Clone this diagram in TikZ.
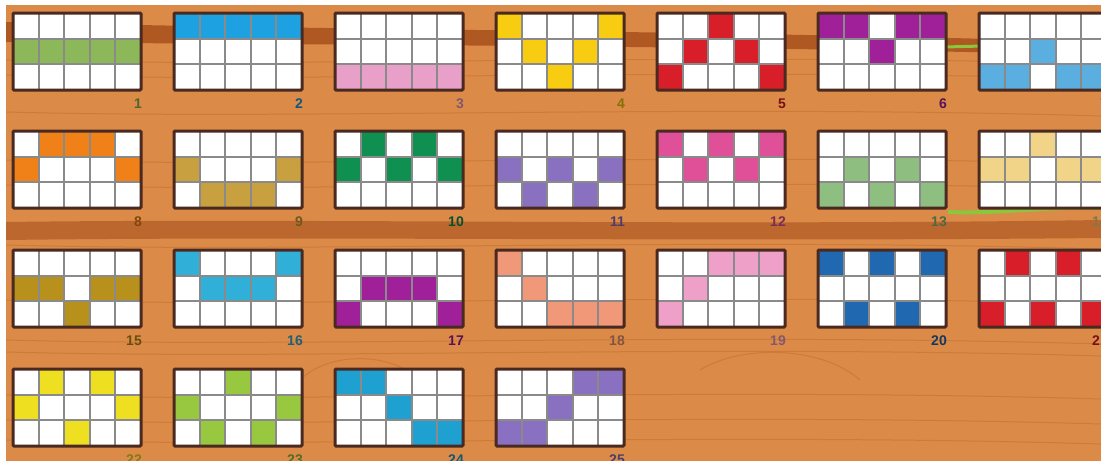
\documentclass[tikz,border=0pt]{standalone}
\usepackage{fontspec}
\setsansfont{Liberation Sans}
\definecolor{wood}{HTML}{DC8A48}
\definecolor{wooddark}{HTML}{A8501C}
\definecolor{grain}{HTML}{C7702E}
\definecolor{frame}{HTML}{4A2A20}
\definecolor{gline}{HTML}{8A8A8A}
\definecolor{vine}{HTML}{8CC63F}
\definecolor{cA}{HTML}{8DB85A}
\definecolor{cB}{HTML}{1DA1E0}
\definecolor{cC}{HTML}{E8A0C8}
\definecolor{cD}{HTML}{F8CC10}
\definecolor{cE}{HTML}{D81E28}
\definecolor{cF}{HTML}{A0209A}
\definecolor{cG}{HTML}{5AAEE0}
\definecolor{cH}{HTML}{F08018}
\definecolor{cI}{HTML}{C8A040}
\definecolor{cJ}{HTML}{109050}
\definecolor{cK}{HTML}{8A70C0}
\definecolor{cL}{HTML}{E05098}
\definecolor{cM}{HTML}{8EBE80}
\definecolor{cN}{HTML}{F2D488}
\definecolor{cO}{HTML}{B8901C}
\definecolor{cP}{HTML}{30B0D8}
\definecolor{cQ}{HTML}{F09878}
\definecolor{cR}{HTML}{EFA0C8}
\definecolor{cS}{HTML}{2068B0}
\definecolor{cT}{HTML}{EEE020}
\definecolor{cU}{HTML}{98C840}
\definecolor{cV}{HTML}{1EA0D0}
\tikzset{
  gridline/.style={draw=gline, line width=2pt},
  border/.style={draw=frame, line width=3pt, rounded corners=1pt},
  numlabel/.style={anchor=east, inner sep=0pt, font=\sffamily\bfseries\fontsize{14}{14}\selectfont},
  grainline/.style={draw=grain, line width=1pt, opacity=0.6},
}
% #1 X, #2 Y, #3 colour, #4 cells (row/col), #5 number
\newcommand\paygrid[5]{%
  \fill[white] (#1,#2) rectangle ++(128,77);
  \foreach \r/\c in {#4} \fill[#3] ({#1+\c*25.6},{#2+\r*25.667}) rectangle ++(25.6,25.667);
  \foreach \i in {1,...,4} \draw[gridline] ({#1+\i*25.6},#2) -- ++(0,77);
  \foreach \j in {1,2} \draw[gridline] (#1,{#2+\j*25.667}) -- ++(128,0);
  \draw[border] (#1,#2) rectangle ++(128,77);
  \node[numlabel, text=#3!55!black] (n#5) at ({#1+129},{#2+91}) {#5};
}
\begin{document}
\begin{tikzpicture}[x=1pt,y=-1pt]
\useasboundingbox (0,0) rectangle (1101,463);
\fill[white] (0,0) rectangle (1101,463);
\begin{scope}
\clip (6,5) rectangle (1101,461);
\fill[wood] (6,5) rectangle (1101,461);
% wood grain
\foreach \yy in {60,75,112,160,185,245,300,340,352,395,420,440} {
  \draw[grainline] (6,\yy) .. controls (300,\yy+8) and (700,\yy-8) .. (1101,\yy+4);
}
\draw[grainline] (300,380) .. controls (330,350) and (400,350) .. (430,390);
\draw[grainline] (700,370) .. controls (740,345) and (820,345) .. (860,380);
% dark bands
\fill[wooddark, opacity=0.85] (6,22) .. controls (300,30) and (700,30) .. (1101,42)
  -- (1101,55) .. controls (700,45) and (300,45) .. (6,42) -- cycle;
\fill[wooddark, opacity=0.6] (6,222) .. controls (300,218) and (700,226) .. (1101,220)
  -- (1101,238) .. controls (700,242) and (300,236) .. (6,240) -- cycle;
\draw[vine, line width=3pt] (945,47) -- (982,46);
\draw[vine, line width=4pt] (948,212) .. controls (1000,214) and (1050,206) .. (1101,208);
\end{scope}
% row 1
\paygrid{13}{13}{cA}{1/0,1/1,1/2,1/3,1/4}{1}
\paygrid{174}{13}{cB}{0/0,0/1,0/2,0/3,0/4}{2}
\paygrid{335}{13}{cC}{2/0,2/1,2/2,2/3,2/4}{3}
\paygrid{496}{13}{cD}{0/0,1/1,2/2,1/3,0/4}{4}
\paygrid{657}{13}{cE}{2/0,1/1,0/2,1/3,2/4}{5}
\paygrid{818}{13}{cF}{0/0,0/1,1/2,0/3,0/4}{6}
\paygrid{979}{13}{cG}{2/0,2/1,1/2,2/3,2/4}{7}
% row 2
\paygrid{13}{131}{cH}{1/0,0/1,0/2,0/3,1/4}{8}
\paygrid{174}{131}{cI}{1/0,2/1,2/2,2/3,1/4}{9}
\paygrid{335}{131}{cJ}{1/0,0/1,1/2,0/3,1/4}{10}
\paygrid{496}{131}{cK}{1/0,2/1,1/2,2/3,1/4}{11}
\paygrid{657}{131}{cL}{0/0,1/1,0/2,1/3,0/4}{12}
\paygrid{818}{131}{cM}{2/0,1/1,2/2,1/3,2/4}{13}
\paygrid{979}{131}{cN}{1/0,1/1,0/2,1/3,1/4}{14}
% row 3
\paygrid{13}{250}{cO}{1/0,1/1,2/2,1/3,1/4}{15}
\paygrid{174}{250}{cP}{0/0,1/1,1/2,1/3,0/4}{16}
\paygrid{335}{250}{cF}{2/0,1/1,1/2,1/3,2/4}{17}
\paygrid{496}{250}{cQ}{0/0,1/1,2/2,2/3,2/4}{18}
\paygrid{657}{250}{cR}{2/0,1/1,0/2,0/3,0/4}{19}
\paygrid{818}{250}{cS}{0/0,2/1,0/2,2/3,0/4}{20}
\paygrid{979}{250}{cE}{2/0,0/1,2/2,0/3,2/4}{21}
% row 4
\paygrid{13}{369}{cT}{1/0,0/1,2/2,0/3,1/4}{22}
\paygrid{174}{369}{cU}{1/0,2/1,0/2,2/3,1/4}{23}
\paygrid{335}{369}{cV}{0/0,0/1,1/2,2/3,2/4}{24}
\paygrid{496}{369}{cK}{2/0,2/1,1/2,0/3,0/4}{25}
% trim to page
\fill[white] (0,461) rectangle (1101,463);
\fill[white] (0,0) rectangle (6,463);
\fill[white] (0,0) rectangle (1101,5);
\end{tikzpicture}
\end{document}
